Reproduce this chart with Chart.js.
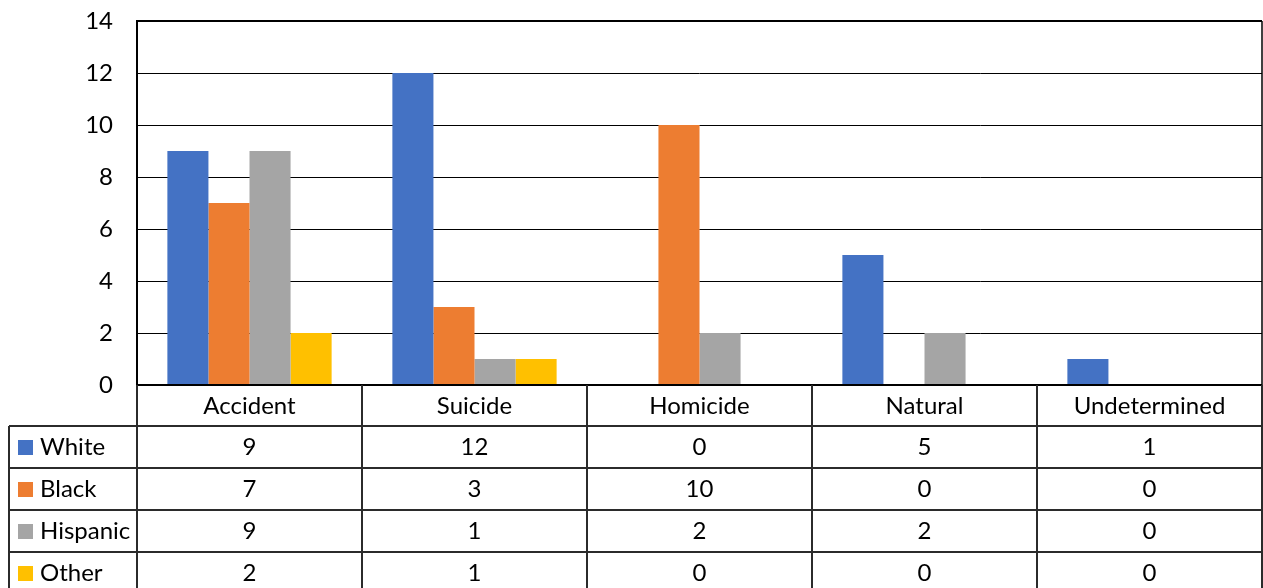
<!DOCTYPE html>
<html>
<head>
<meta charset="utf-8">
<script src="https://cdn.jsdelivr.net/npm/chart.js@4/dist/chart.umd.min.js"></script>
<style>
  body { margin: 0; background: #fff; }
  #wrap { width: 1263px; height: 588px; }
</style>
</head>
<body>
<div id="wrap"><canvas id="chart" width="1263" height="588"></canvas></div>
<script>
var categorias = ["Accident", "Suicide", "Homicide", "Natural", "Undetermined"];
var white    = [9, 12, 0, 5, 1];
var black    = [7, 3, 10, 0, 0];
var hispanic = [9, 1, 2, 2, 0];
var other    = [2, 1, 0, 0, 0];
var yTicks   = [0, 2, 4, 6, 8, 10, 12, 14];

var FONT = "Lato, 'Open Sans', sans-serif";
var FSIZE = 24;

// tabela de dados embaixo do grafico (estilo Excel)
var tabelaPlugin = {
  id: 'tabela',
  afterDraw: function (chart) {
    var ctx = chart.ctx;
    var a = chart.chartArea;
    var xs = chart.scales.x;
    var colW = (a.right - a.left) / categorias.length;
    var headerH = 41, rowH = 42;
    var top = a.bottom;
    var fim = chart.height + 5;
    var leftX = 9;

    ctx.save();

    // borda do plot
    ctx.strokeStyle = '#000';
    ctx.lineWidth = 2;
    ctx.beginPath();
    ctx.moveTo(a.left, a.bottom);
    ctx.lineTo(a.left, a.top);
    ctx.lineTo(a.right, a.top);
    ctx.stroke();
    ctx.lineWidth = 1.5;
    ctx.beginPath();
    ctx.moveTo(a.right, a.top);
    ctx.lineTo(a.right, a.bottom);
    ctx.stroke();
    ctx.lineWidth = 2;
    ctx.beginPath();
    ctx.moveTo(a.left, a.bottom);
    ctx.lineTo(a.right, a.bottom);
    ctx.stroke();

    // linhas da tabela
    ctx.strokeStyle = '#2b2b2b';
    ctx.lineWidth = 2;
    for (var i = 0; i <= categorias.length; i++) {
      var vx = a.left + i * colW;
      ctx.beginPath();
      ctx.moveTo(vx, top);
      ctx.lineTo(vx, fim);
      ctx.stroke();
    }
    ctx.beginPath();
    ctx.moveTo(leftX, top + headerH);
    ctx.lineTo(leftX, fim);
    ctx.stroke();

    var series = chart.data.datasets;
    for (var r = 0; r < series.length; r++) {
      var ly = top + headerH + r * rowH;
      ctx.beginPath();
      ctx.moveTo(leftX, ly);
      ctx.lineTo(a.right, ly);
      ctx.stroke();
    }

    // textos
    ctx.fillStyle = '#000';
    ctx.font = FSIZE + 'px ' + FONT;
    ctx.textAlign = 'center';
    ctx.textBaseline = 'middle';
    for (var c = 0; c < categorias.length; c++) {
      var cx = xs.getPixelForValue(c);
      ctx.fillText(categorias[c], cx, top + headerH / 2 + 1);
      for (var s = 0; s < series.length; s++) {
        var cy = top + headerH + s * rowH + rowH / 2;
        ctx.fillText(String(series[s].data[c]), cx, cy);
      }
    }

    ctx.textAlign = 'left';
    for (var k = 0; k < series.length; k++) {
      var my = top + headerH + k * rowH + rowH / 2;
      ctx.fillStyle = series[k].backgroundColor;
      ctx.fillRect(18, my - 7, 15, 15);
      ctx.fillStyle = '#000';
      ctx.fillText(series[k].label, 40, my);
    }

    ctx.restore();
  }
};

var grafico = new Chart(document.getElementById('chart'), {
  type: 'bar',
  data: {
    labels: categorias,
    datasets: [
      { label: "White",    data: white,    backgroundColor: '#4472C4' },
      { label: "Black",    data: black,    backgroundColor: '#ED7D31' },
      { label: "Hispanic", data: hispanic, backgroundColor: '#A5A5A5' },
      { label: "Other",    data: other,    backgroundColor: '#FFC000' }
    ]
  },
  options: {
    responsive: false,
    animation: false,
    layout: { padding: { top: 21, right: 1, bottom: 203, left: 0 } },
    datasets: { bar: { categoryPercentage: 0.73, barPercentage: 1.0, borderWidth: 0 } },
    plugins: {
      legend: { display: false },
      tooltip: { enabled: false }
    },
    scales: {
      x: {
        display: false,
        grid: { display: false }
      },
      y: {
        min: 0,
        max: 14,
        afterBuildTicks: function (scale) {
          scale.ticks = yTicks.map(function (v) { return { value: v }; });
        },
        afterFit: function (scale) {
          scale.width = 137;
          scale.paddingTop = 0;
          scale.paddingBottom = 0;
        },
        border: { display: false },
        grid: { color: '#000', lineWidth: 1, drawTicks: false },
        ticks: {
          padding: 24,
          color: '#000',
          font: { family: FONT, size: FSIZE }
        }
      }
    }
  },
  plugins: [tabelaPlugin]
});
</script>
</body>
</html>
